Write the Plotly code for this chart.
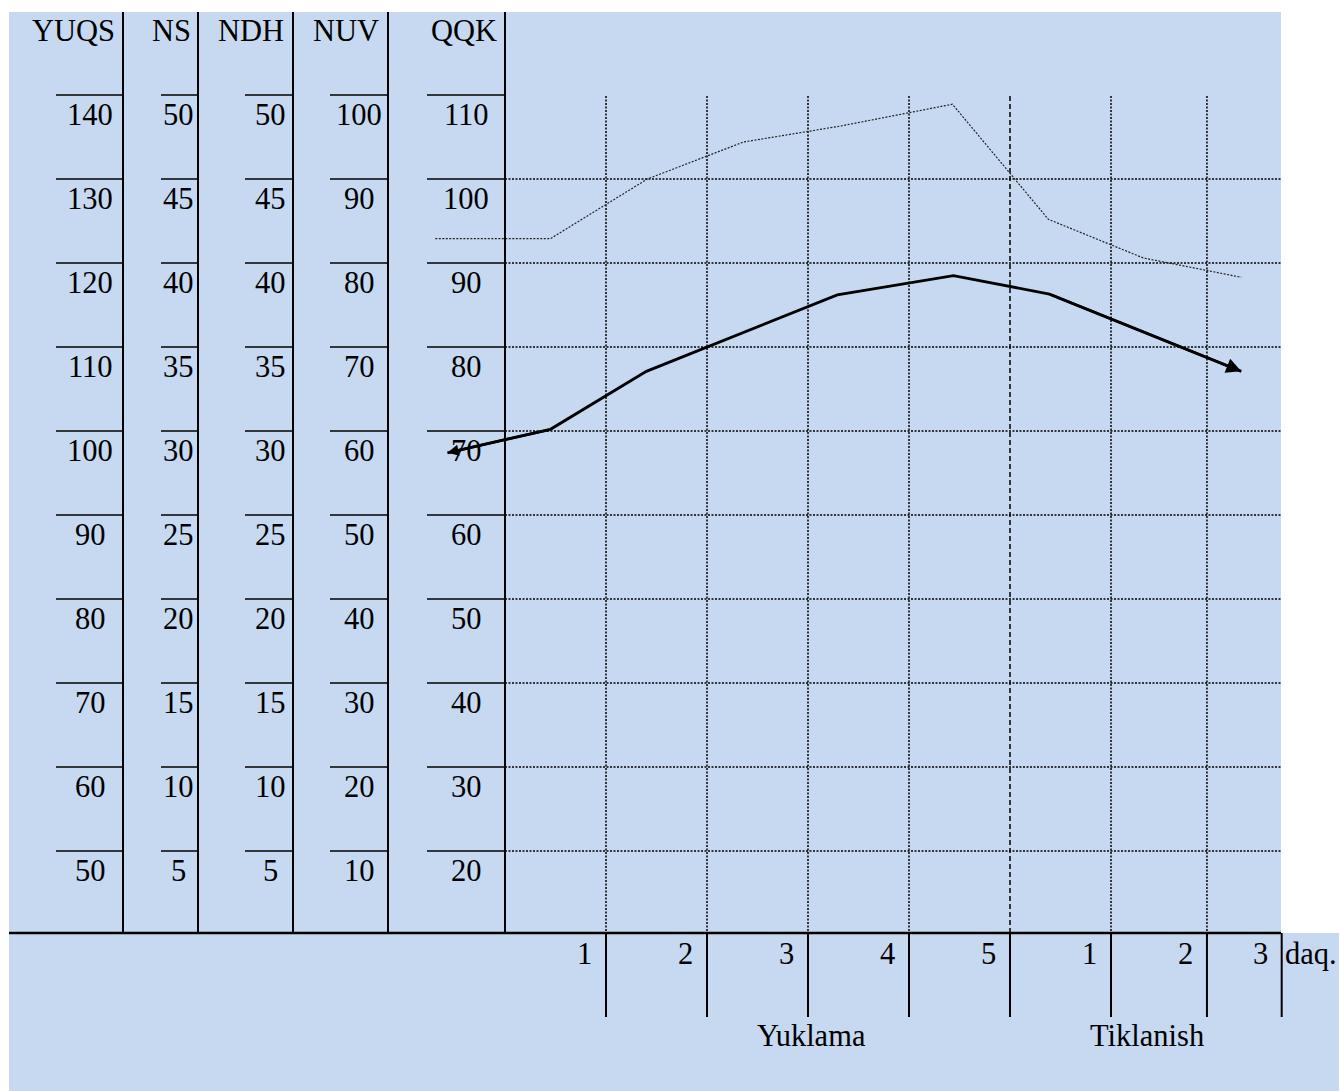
import plotly.graph_objects as go

# ---------------- data ----------------
scale_names = ["YUQS", "NS", "NDH", "NUV", "QQK"]
yuqs_ticks = [140, 130, 120, 110, 100, 90, 80, 70, 60, 50]
ns_ticks = [50, 45, 40, 35, 30, 25, 20, 15, 10, 5]
ndh_ticks = [50, 45, 40, 35, 30, 25, 20, 15, 10, 5]
nuv_ticks = [100, 90, 80, 70, 60, 50, 40, 30, 20, 10]
qqk_ticks = [110, 100, 90, 80, 70, 60, 50, 40, 30, 20]
minute_labels = ["1", "2", "3", "4", "5", "1", "2", "3"]
unit_label = "daq."
phase_labels = ["Yuklama", "Tiklanish"]

# series: x = time position (minutes), y = value on the QQK scale
upper_x = [-0.69, 0.45, 1.41, 2.36, 3.32, 4.43, 5.38, 6.32, 7.29]
upper_y = [92.9, 92.9, 100.0, 104.4, 106.3, 108.9, 95.2, 90.6, 88.3]
lower_x = [-0.57, 0.45, 1.40, 3.29, 4.44, 5.39, 7.29]
lower_y = [67.4, 70.2, 77.1, 86.2, 88.5, 86.3, 77.1]

# ---------------- layout geometry ----------------
W, H = 1339, 1091
X0_PX, PX_PER_MIN = 505, 101.0
Y110_PX, PX_PER_UNIT = 95, 8.4


def X(px):
    return (px - X0_PX) / PX_PER_MIN


def Y(py):
    return 110 - (py - Y110_PX) / PX_PER_UNIT


FONT = dict(family="Liberation Serif, Times New Roman, serif", size=30.5, color="black")
BLUE = "#C6D9F1"

col_lines_px = [123, 198, 293, 388, 505]
tick_segments_px = [(56, 123), (161, 198), (245, 293), (330, 388), (427, 505)]
label_centers_px = [90, 178, 270, 359, 466]
header_centers_px = [73, 171, 251, 346, 464]
divider_min = [1, 2, 3, 4, 5, 6, 6.95, 7.69]
grid_min = [1, 2, 3, 4, 5, 6, 6.95]

shapes = []
# background panels
shapes.append(dict(type="rect", xref="x", yref="y", x0=X(9), x1=X(1281), y0=Y(12), y1=Y(933),
                   fillcolor=BLUE, line=dict(width=0), layer="below"))
shapes.append(dict(type="rect", xref="x", yref="y", x0=X(9), x1=X(1339), y0=Y(933), y1=Y(1091),
                   fillcolor=BLUE, line=dict(width=0), layer="below"))

# dotted horizontal grid
for v in qqk_ticks[1:]:
    shapes.append(dict(type="line", xref="x", yref="y", x0=0, x1=X(1281), y0=v, y1=v,
                       line=dict(color="black", width=1.5, dash="2px,1.5px"), layer="below"))
# vertical grid
for i, m in enumerate(grid_min):
    dash = "5px,3px" if i == 4 else "2px,1.5px"
    shapes.append(dict(type="line", xref="x", yref="y", x0=m, x1=m, y0=Y(96), y1=Y(933),
                       line=dict(color="black", width=1.5, dash=dash), layer="below"))

# table column lines
for px in col_lines_px:
    shapes.append(dict(type="line", xref="x", yref="y", x0=X(px), x1=X(px), y0=Y(12), y1=Y(933),
                       line=dict(color="black", width=2)))
# tick lines for each scale
for v in qqk_ticks:
    for a, b in tick_segments_px:
        shapes.append(dict(type="line", xref="x", yref="y", x0=X(a), x1=X(b), y0=v, y1=v,
                           line=dict(color="black", width=1.6)))
# base line
shapes.append(dict(type="line", xref="x", yref="y", x0=X(9), x1=X(1281), y0=Y(933), y1=Y(933),
                   line=dict(color="black", width=2.5)))
# time dividers
for m in divider_min:
    shapes.append(dict(type="line", xref="x", yref="y", x0=m, x1=m, y0=Y(933), y1=Y(1017),
                       line=dict(color="black", width=2)))

annotations = []
# headers
for name, cx in zip(scale_names, header_centers_px):
    annotations.append(dict(x=X(cx), y=Y(30.5), xref="x", yref="y", text=name, showarrow=False,
                            xanchor="center", yanchor="middle", font=FONT))
# scale labels
scales = [yuqs_ticks, ns_ticks, ndh_ticks, nuv_ticks, qqk_ticks]
for ticks, cx in zip(scales, label_centers_px):
    for v, q in zip(ticks, qqk_ticks):
        annotations.append(dict(x=X(cx), y=q - 19.5 / PX_PER_UNIT, xref="x", yref="y", text=str(v),
                                showarrow=False, xanchor="center", yanchor="middle", font=FONT))
# minute labels
for lab, m in zip(minute_labels, divider_min):
    annotations.append(dict(x=m - 12 / PX_PER_MIN, y=Y(953.5), xref="x", yref="y", text=lab,
                            showarrow=False, xanchor="right", yanchor="middle", font=FONT))
annotations.append(dict(x=divider_min[-1] + 1 / PX_PER_MIN, y=Y(953.5), xref="x", yref="y",
                        text=unit_label, showarrow=False, xanchor="left", yanchor="middle", font=FONT))
# phase labels
for lab, cx in zip(phase_labels, [811, 1147]):
    annotations.append(dict(x=X(cx), y=Y(1035.5), xref="x", yref="y", text=lab, showarrow=False,
                            xanchor="center", yanchor="middle", font=FONT))

# arrow heads on the bold line
annotations.append(dict(x=lower_x[-1], y=lower_y[-1], ax=lower_x[-2], ay=lower_y[-2],
                        xref="x", yref="y", axref="x", ayref="y", text="", showarrow=True,
                        arrowhead=2, arrowsize=1.2, arrowwidth=2.5, arrowcolor="black"))
annotations.append(dict(x=lower_x[0], y=lower_y[0], ax=lower_x[1], ay=lower_y[1],
                        xref="x", yref="y", axref="x", ayref="y", text="", showarrow=True,
                        arrowhead=2, arrowsize=0.9, arrowwidth=2.5, arrowcolor="black"))

fig = go.Figure()
fig.add_trace(go.Scatter(x=upper_x, y=upper_y, mode="lines",
                         line=dict(color="#222222", width=1.2, dash="2px,1.5px"),
                         hoverinfo="skip", showlegend=False))
fig.add_trace(go.Scatter(x=lower_x, y=lower_y, mode="lines",
                         line=dict(color="black", width=2.8),
                         hoverinfo="skip", showlegend=False))

fig.update_layout(
    width=W, height=H,
    margin=dict(l=0, r=0, t=0, b=0),
    paper_bgcolor="white", plot_bgcolor="rgba(0,0,0,0)",
    xaxis=dict(range=[X(0), X(W)], visible=False, fixedrange=True),
    yaxis=dict(range=[Y(H), Y(0)], visible=False, fixedrange=True),
    shapes=shapes, annotations=annotations, showlegend=False,
)

fig.write_html("out.html", config={"displayModeBar": False},
               post_script="document.body.style.margin='0';document.body.style.overflow='hidden';")
